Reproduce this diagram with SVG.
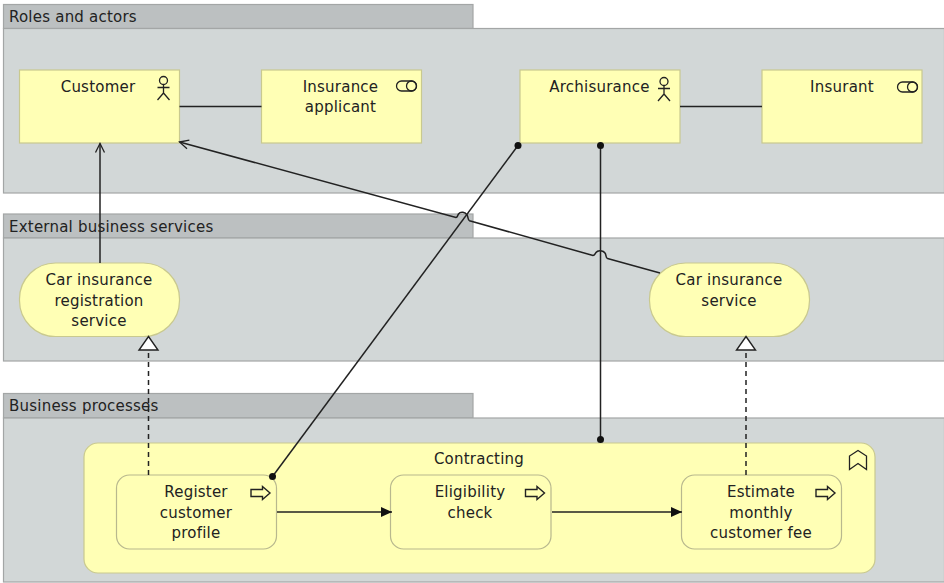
<svg xmlns="http://www.w3.org/2000/svg" width="944" height="583" viewBox="0 0 944 583">
<style>
text{font-family:"DejaVu Sans","Liberation Sans",sans-serif;font-size:15px;letter-spacing:.22px;fill:#222}
.m{text-anchor:middle}
.tab{fill:#bcc0c1;stroke:#a3a6a6;stroke-width:1.2}
.body{fill:#d2d7d7;stroke:#a3a6a6;stroke-width:1.2}
.y{fill:#ffffb5;stroke:#c9c98f;stroke-width:1.2}
.p{fill:#ffffb5;stroke:#b8b88e;stroke-width:1.2}
.i{fill:none;stroke:#222;stroke-width:1.3}
.a{fill:#ffffb5;stroke:#222;stroke-width:1.4}
.c{fill:none;stroke:#222;stroke-width:1.5}
</style>
<defs>
<marker id="open" markerUnits="userSpaceOnUse" markerWidth="14" markerHeight="14" refX="12" refY="7" orient="auto"><path d="M3 2.500L12 7L3 11.500" fill="none" stroke="#222" stroke-width="1.3"/></marker>
<marker id="fill" markerUnits="userSpaceOnUse" markerWidth="14" markerHeight="14" refX="12" refY="7" orient="auto"><path d="M1 2L12 7L1 12Z" fill="#111"/></marker>
<marker id="dot" markerUnits="userSpaceOnUse" markerWidth="10" markerHeight="10" refX="5" refY="5"><circle cx="5" cy="5" r="3.500" fill="#111"/></marker>
<g id="actor"><circle cx="0" cy="4.500" r="4" class="i"/><path d="M0 8.500V17M-6 11.500H6M0 17L-6 24M0 17L6 24" class="i"/></g>
<g id="role"><path d="M5.500 1H15.500A5 5 0 0 1 15.500 11H5.500A5 5 0 0 1 5.500 1Z" class="i"/><circle cx="15.500" cy="6" r="5" class="i"/></g>
<path id="arr" d="M0 -3.500H11.500V-6.500L19 0L11.500 6.500V3.500H0Z" class="a"/>
</defs>

<g id="group-roles">
<rect class="tab" x="3.500" y="4.500" width="469.500" height="24"/>
<rect class="body" x="3.500" y="28.500" width="941" height="164.500"/>
<text x="9" y="22">Roles and actors</text>
</g>
<g id="group-services">
<rect class="tab" x="3.500" y="214" width="469.500" height="24"/>
<rect class="body" x="3.500" y="238" width="941" height="123"/>
<text x="9" y="232">External business services</text>
</g>
<g id="group-processes">
<rect class="tab" x="3.500" y="393.500" width="469.500" height="24.500"/>
<rect class="body" x="3.500" y="418" width="941" height="164"/>
<text x="9" y="411">Business processes</text>
</g>

<g id="customer">
<rect class="y" x="19.500" y="70" width="160" height="73"/>
<text class="m" x="98" y="91.500">Customer</text>
<use href="#actor" x="163.500" y="76"/>
</g>
<g id="insurance-applicant">
<rect class="y" x="261.500" y="70" width="160" height="73"/>
<text class="m" x="340.500" y="92">Insurance</text>
<text class="m" x="340.500" y="112">applicant</text>
<use href="#role" x="396" y="80"/>
</g>
<g id="archisurance">
<rect class="y" x="520" y="70" width="160" height="73"/>
<text class="m" x="599.500" y="92">Archisurance</text>
<use href="#actor" x="664" y="77"/>
</g>
<g id="insurant">
<rect class="y" x="762" y="70" width="160" height="73"/>
<text class="m" x="842" y="92">Insurant</text>
<use href="#role" x="897" y="81"/>
</g>
<g id="car-insurance-registration-service">
<rect class="y" x="19.500" y="263" width="160" height="73.500" rx="36" ry="36"/>
<text class="m" x="99" y="285">Car insurance</text>
<text class="m" x="99" y="305.500">registration</text>
<text class="m" x="99" y="326">service</text>
</g>
<g id="car-insurance-service">
<rect class="y" x="649.500" y="263" width="160" height="73.500" rx="36" ry="36"/>
<text class="m" x="729" y="285">Car insurance</text>
<text class="m" x="729" y="305.500">service</text>
</g>
<g id="contracting">
<rect class="y" x="84" y="443" width="791" height="130" rx="14" ry="14"/>
<text class="m" x="479" y="464">Contracting</text>
<path class="i" d="M849.500 469.500V456L858 450.500L866.500 456V469.500L858 463.500Z"/>
</g>
<g id="register-customer-profile">
<rect class="p" x="116.500" y="475" width="160" height="74" rx="13" ry="13"/>
<text class="m" x="196" y="497">Register</text>
<text class="m" x="196" y="517.500">customer</text>
<text class="m" x="196" y="538">profile</text>
<use href="#arr" x="251" y="493"/>
</g>
<g id="eligibility-check">
<rect class="p" x="390.500" y="475" width="160.500" height="74" rx="13" ry="13"/>
<text class="m" x="470" y="497">Eligibility</text>
<text class="m" x="470" y="517.500">check</text>
<use href="#arr" x="525.500" y="493"/>
</g>
<g id="estimate-monthly-customer-fee">
<rect class="p" x="681.500" y="475" width="160" height="74" rx="13" ry="13"/>
<text class="m" x="761" y="497">Estimate</text>
<text class="m" x="761" y="517.500">monthly</text>
<text class="m" x="761" y="538">customer fee</text>
<use href="#arr" x="816" y="493"/>
</g>

<g id="connectors">
<path class="c" d="M179.500 106.500H261.500"/>
<path class="c" d="M680 106.500H762"/>
<path class="c" d="M100 263V143.500" marker-end="url(#open)"/>
<path class="c" d="M660 273L607.500 258.500C605.500 258 606.500 255 605 253C603.500 250.500 598 249.500 596 252.500C595 254 594.500 255.500 593 255.500L469.500 220.700C467.500 220 468.500 217 467 215C465.500 212 460.500 211 458.500 214C457.500 215.500 457.500 217.500 456 217.500L179.500 142" marker-end="url(#open)"/>
<path class="c" d="M272.500 476.500L518 145.500" marker-start="url(#dot)" marker-end="url(#dot)"/>
<path class="c" d="M600.500 145.500V439.500" marker-start="url(#dot)" marker-end="url(#dot)"/>
<path class="c" d="M148.500 475V350" stroke-dasharray="5 4"/>
<path class="a" style="fill:#fff" d="M148.500 336.500L158 350H139Z"/>
<path class="c" d="M746 475V350" stroke-dasharray="5 4"/>
<path class="a" style="fill:#fff" d="M746 336.500L755.500 350H736.500Z"/>
<path class="c" d="M277 512H392" marker-end="url(#fill)"/>
<path class="c" d="M552 512H682" marker-end="url(#fill)"/>
</g>
</svg>
